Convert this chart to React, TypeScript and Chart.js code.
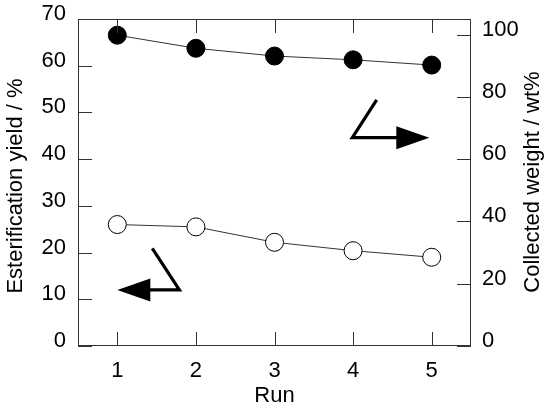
import React, { useEffect, useRef } from "react";
import { Chart, registerables } from "chart.js";

Chart.register(...registerables);

const runs = [1, 2, 3, 4, 5];
const esterificationYield = [26.0, 25.5, 22.2, 20.4, 19.0];
const collectedWeight = [99.8, 95.6, 93.1, 91.9, 90.2];
const leftTicks = [0, 10, 20, 30, 40, 50, 60, 70];
const rightTicks = [0, 20, 40, 60, 80, 100];
const xTicks = [1, 2, 3, 4, 5];

// arrow paths in data units (x: run, y: left axis %)
const arrowToRight = [
  [4.3, 52.7],
  [3.99, 44.6],
  [4.97, 44.6],
];
const arrowToLeft = [
  [1.445, 20.9],
  [1.79, 12.0],
  [1.0, 12.0],
];

const FONT = "'Liberation Sans', Arial, sans-serif";
const PLOT_TOP = 19;

const decorPlugin = {
  id: "decor",
  afterDraw(chart: any) {
    const { ctx, chartArea } = chart;
    const sx = chart.scales.x;
    const sy = chart.scales.y;
    const sy1 = chart.scales.y1;
    const { left, right, top, bottom } = chartArea;
    const TL = 14;
    ctx.save();
    // frame
    ctx.strokeStyle = "#333";
    ctx.lineWidth = 1;
    ctx.strokeRect(left + 0.5, top + 0.5, right - left - 1, bottom - top - 1);
    // inward ticks
    ctx.beginPath();
    xTicks.forEach((v) => {
      const px = Math.round(sx.getPixelForValue(v)) + 0.5;
      ctx.moveTo(px, bottom);
      ctx.lineTo(px, bottom - TL);
      ctx.moveTo(px, top);
      ctx.lineTo(px, top + TL);
    });
    leftTicks.forEach((v) => {
      const py = Math.round(sy.getPixelForValue(v)) + 0.5;
      ctx.moveTo(left, py);
      ctx.lineTo(left + TL, py);
    });
    rightTicks.forEach((v) => {
      const py = Math.round(sy1.getPixelForValue(v)) + 0.5;
      ctx.moveTo(right, py);
      ctx.lineTo(right - TL, py);
    });
    ctx.stroke();

    // arrows
    const drawArrow = (pts: number[][]) => {
      const p = pts.map(([x, y]) => [sx.getPixelForValue(x), sy.getPixelForValue(y)]);
      const tip = p[2];
      const corner = p[1];
      const dir = Math.sign(tip[0] - corner[0]);
      const headLen = 33;
      const headHalf = 11.5;
      const baseX = tip[0] - dir * headLen;
      ctx.strokeStyle = "#000";
      ctx.lineWidth = 3.2;
      ctx.lineJoin = "miter";
      ctx.beginPath();
      ctx.moveTo(p[0][0], p[0][1]);
      ctx.lineTo(corner[0], corner[1]);
      ctx.lineTo(baseX + dir, tip[1]);
      ctx.stroke();
      ctx.fillStyle = "#000";
      ctx.beginPath();
      ctx.moveTo(tip[0], tip[1]);
      ctx.lineTo(baseX, tip[1] - headHalf);
      ctx.lineTo(baseX, tip[1] + headHalf);
      ctx.closePath();
      ctx.fill();
    };
    drawArrow(arrowToRight);
    drawArrow(arrowToLeft);

    // axis titles
    ctx.fillStyle = "#000";
    ctx.font = `22px ${FONT}`;
    ctx.textAlign = "center";
    ctx.textBaseline = "middle";
    ctx.save();
    ctx.translate(15.5, 186);
    ctx.rotate(-Math.PI / 2);
    ctx.fillText("Esterification yield / %", 0, 0);
    ctx.restore();
    ctx.save();
    ctx.translate(533, 182);
    ctx.rotate(-Math.PI / 2);
    ctx.fillText("Collected weight / wt%", 0, 0);
    ctx.restore();
    ctx.fillText("Run", (left + right) / 2, 396);
    ctx.restore();
  },
};

// force the plot area to the intended box
const areaPlugin = {
  id: "area",
  afterLayout(chart: any) {
    const ca = chart.chartArea;
    if (ca.top !== PLOT_TOP) {
      ca.top = PLOT_TOP;
      ca.height = ca.bottom - ca.top;
      ["y", "y1"].forEach((id) => {
        const s = chart.scales[id];
        s.top = PLOT_TOP;
        s.height = s.bottom - s.top;
        s.configure();
      });
    }
  },
};

export default function App() {
  const ref = useRef<HTMLCanvasElement>(null);
  useEffect(() => {
    if (!ref.current) return;
    const tickFont = { family: FONT, size: 22 };
    const chart = new Chart(ref.current, {
      type: "line",
      data: {
        datasets: [
          {
            label: "Collected weight",
            data: runs.map((r, i) => ({ x: r, y: collectedWeight[i] })),
            yAxisID: "y1",
            borderColor: "#333",
            borderWidth: 1,
            backgroundColor: "#000",
            pointBackgroundColor: "#000",
            pointBorderColor: "#000",
            pointBorderWidth: 1,
            pointRadius: 9,
            fill: false,
          },
          {
            label: "Esterification yield",
            data: runs.map((r, i) => ({ x: r, y: esterificationYield[i] })),
            yAxisID: "y",
            borderColor: "#333",
            borderWidth: 1,
            backgroundColor: "#fff",
            pointBackgroundColor: "#fff",
            pointBorderColor: "#000",
            pointBorderWidth: 1,
            pointRadius: 9,
            fill: false,
          },
        ],
      },
      options: {
        animation: false,
        responsive: false,
        devicePixelRatio: 1,
        layout: { padding: { top: PLOT_TOP, left: 0, right: 0, bottom: 0 } },
        plugins: { legend: { display: false }, tooltip: { enabled: false } },
        scales: {
          x: {
            type: "linear",
            min: 0.5,
            max: 5.5,
            grid: { display: false, drawTicks: false },
            border: { display: false },
            afterBuildTicks: (s: any) => {
              s.ticks = xTicks.map((v) => ({ value: v }));
            },
            afterFit: (s: any) => {
              s.height = 65;
            },
            ticks: { font: tickFont, color: "#000", padding: 12, maxRotation: 0 },
          },
          y: {
            type: "linear",
            position: "left",
            min: 0,
            max: 70,
            grid: { display: false, drawTicks: false },
            border: { display: false },
            afterBuildTicks: (s: any) => {
              s.ticks = leftTicks.map((v) => ({ value: v }));
            },
            afterFit: (s: any) => {
              s.width = 78;
            },
            ticks: { font: tickFont, color: "#000", padding: 12, labelOffset: -5 },
          },
          y1: {
            type: "linear",
            position: "right",
            min: 0,
            max: 105,
            grid: { display: false, drawTicks: false },
            border: { display: false },
            afterBuildTicks: (s: any) => {
              s.ticks = rightTicks.map((v) => ({ value: v }));
            },
            afterFit: (s: any) => {
              s.width = 79;
            },
            ticks: { font: tickFont, color: "#000", padding: 11, labelOffset: -5 },
          },
        },
      },
      plugins: [areaPlugin, decorPlugin],
    } as any);
    return () => chart.destroy();
  }, []);
  return (
    <div style={{ position: "absolute", left: 0, top: 0, width: 550, height: 411, background: "#fff" }}>
      <canvas ref={ref} width={550} height={411} style={{ width: 550, height: 411 }} />
    </div>
  );
}
